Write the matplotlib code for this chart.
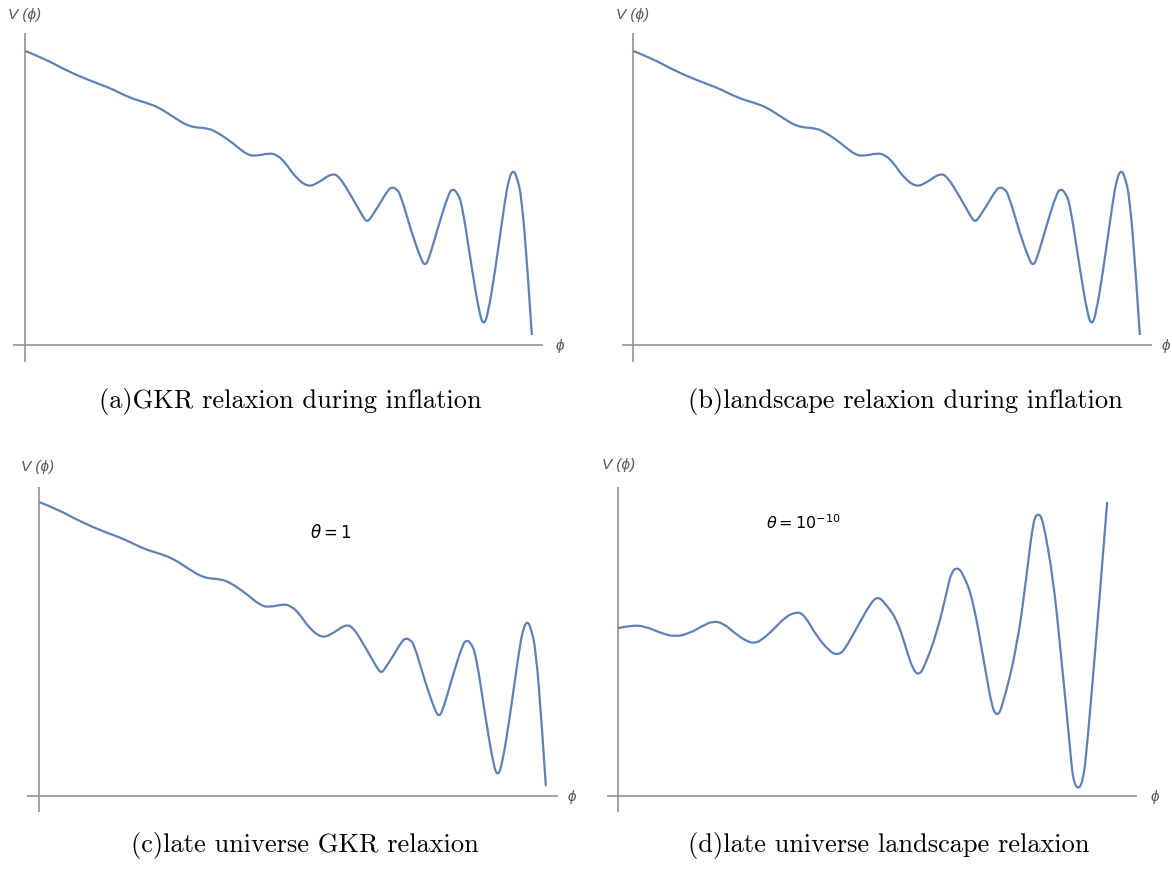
import numpy as np
import matplotlib.pyplot as plt
from matplotlib.path import Path
from matplotlib.patches import PathPatch

# GKR / inflation potential (same curve is shown in panels a, b, c)
phi_gkr = [0.0, 0.36, 0.83, 1.34, 1.68, 2.07, 2.41, 2.66, 2.92, 3.25, 3.59, 3.79,
           4.10, 4.38, 4.58, 4.83, 4.97, 5.13, 5.33, 5.58, 5.78, 6.06, 6.21, 6.45,
           6.67, 6.75, 6.82, 6.96, 7.16, 7.24, 7.32, 7.40, 7.63, 7.81, 7.89, 7.97,
           8.15, 8.36, 8.44, 8.52, 8.62, 8.82, 8.97, 9.05, 9.13, 9.27, 9.47, 9.55,
           9.63, 9.70, 9.80, 9.92, 10.0]
v_gkr = [10.0, 9.76, 9.32, 8.95, 8.74, 8.40, 8.23, 8.06, 7.76, 7.41, 7.38, 7.24,
         6.87, 6.46, 6.43, 6.53, 6.46, 6.22, 5.71, 5.37, 5.51, 5.85, 5.71, 5.03,
         4.35, 4.18, 4.32, 4.69, 5.27, 5.37, 5.31, 5.17, 3.81, 2.93, 2.69, 2.93,
         4.01, 5.17, 5.31, 5.20, 4.83, 2.55, 1.02, 0.68, 1.02, 2.45, 4.93, 5.68,
         5.95, 5.75, 5.03, 2.45, 0.34]

# late universe landscape relaxion (panel d)
phi_land = [0.0, 0.31, 0.59, 0.88, 1.17, 1.47, 1.72, 1.94, 2.15, 2.43, 2.66, 2.80,
            2.94, 3.17, 3.42, 3.64, 3.80, 4.07, 4.34, 4.48, 4.62, 4.89, 5.19, 5.32,
            5.44, 5.71, 5.93, 6.03, 6.13, 6.24, 6.52, 6.73, 6.81, 6.93, 7.06, 7.26,
            7.51, 7.65, 7.75, 7.85, 8.16, 8.36, 8.49, 8.59, 8.69, 8.90, 9.04, 9.24,
            9.30, 9.41, 9.51, 9.59, 9.82, 10.0]
v_land = [5.71, 5.82, 5.75, 5.54, 5.41, 5.54, 5.78, 5.95, 5.88, 5.48, 5.24, 5.20,
          5.31, 5.65, 6.09, 6.26, 6.19, 5.41, 4.90, 4.80, 4.93, 5.75, 6.63, 6.77,
          6.60, 5.99, 4.80, 4.32, 4.12, 4.29, 5.54, 7.01, 7.59, 7.79, 7.55, 6.67,
          4.29, 2.99, 2.72, 2.99, 5.07, 7.59, 9.39, 9.63, 9.39, 7.35, 5.07, 1.67,
          0.54, 0.20, 0.54, 1.67, 6.22, 10.0]

captions = ["(a)GKR relaxion during inflation",
            "(b)landscape relaxion during inflation",
            "(c)late universe GKR relaxion",
            "(d)late universe landscape relaxion"]

W, H = 1172, 880
line_color = '#5E81B5'
axis_color = '#8a8a8a'


def px(x, y):
    return x / W, 1 - y / H


def smooth_path(x, v):
    # quadratic bezier chain through the read points (drawn by matplotlib)
    p = np.column_stack([x, v])
    verts = [p[0]]
    codes = [Path.MOVETO]
    n = len(p)
    for i in range(1, n - 1):
        end = p[n - 1] if i == n - 2 else (p[i] + p[i + 1]) / 2
        verts += [p[i], end]
        codes += [Path.CURVE3, Path.CURVE3]
    return Path(verts, codes)


def add_panel(box, xlim, ylim, x, v):
    left, top, right, bottom = box
    ax = fig.add_axes([left / W, 1 - bottom / H, (right - left) / W, (bottom - top) / H])
    ax.add_patch(PathPatch(smooth_path(x, v), fill=False, edgecolor=line_color,
                           lw=1.6, joinstyle='round'))
    ax.axhline(0, color=axis_color, lw=1.1)
    ax.axvline(0, color=axis_color, lw=1.1)
    ax.set_xlim(xlim)
    ax.set_ylim(ylim)
    ax.axis('off')
    return ax


fig = plt.figure(figsize=(W / 100, H / 100), dpi=100)

add_panel((13, 33, 543, 362), (-0.237, 10.22), (-0.578, 10.61), phi_gkr, v_gkr)
add_panel((622, 33, 1152, 362), (-0.217, 10.24), (-0.578, 10.61), phi_gkr, v_gkr)
add_panel((27, 487, 558, 812), (-0.237, 10.24), (-0.544, 10.51), phi_gkr, v_gkr)
add_panel((607, 487, 1137, 812), (-0.225, 10.61), (-0.544, 10.51), phi_land, v_land)

lab = dict(color='#555555', fontsize=11, fontstyle='italic',
           family=['Liberation Sans', 'DejaVu Sans'], ha='center', va='center')
for (x, y) in [(25, 15), (633, 15), (38, 467), (619, 465)]:
    fig.text(*px(x, y), 'V (ϕ)', **lab)
for (x, y) in [(560, 346), (1166, 346), (572, 797), (1155, 797)]:
    fig.text(*px(x, y), 'ϕ', **lab)

fig.text(*px(331, 533), r'$\theta = 1$', fontsize=12, ha='center', va='center')
fig.text(*px(803, 523), r'$\theta = 10^{-10}$', fontsize=11.5, ha='center', va='center')

for (x, y), cap in zip([(290, 401), (905, 401), (305, 845), (889, 845)], captions):
    fig.text(*px(x, y), cap, fontsize=19, family='cmr10', ha='center', va='center')

plt.savefig("out.png", dpi=100)
